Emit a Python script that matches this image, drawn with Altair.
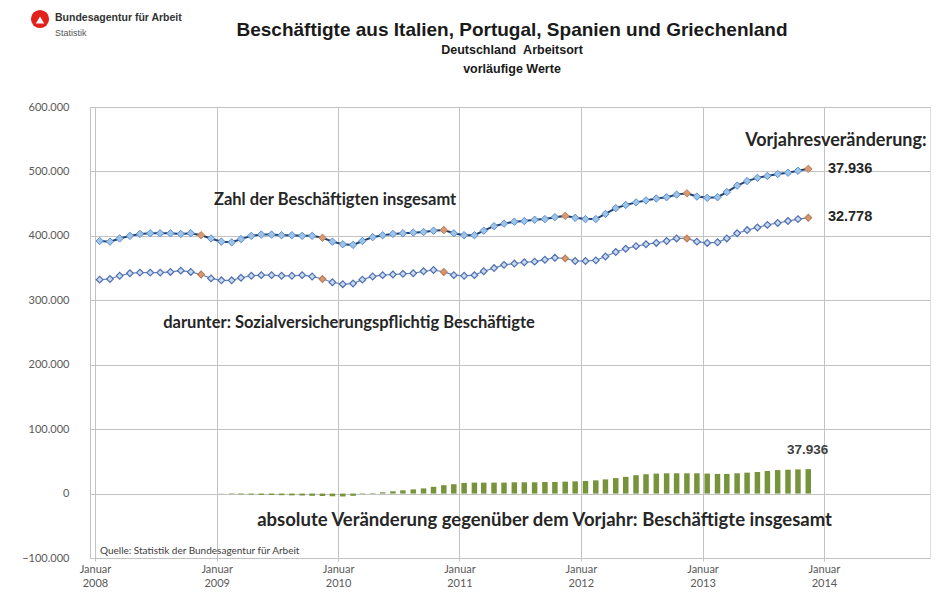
import altair as alt
import pandas as pd

# ---------------- data (thousands) ----------------
total_k = [
    392, 391, 396, 400, 403, 404, 404, 404, 403, 404, 401, 396,   # 2008
    391, 390, 395, 400, 402, 402, 401, 401, 400, 400, 397, 391,   # 2009
    387, 386, 392, 398, 401, 403, 404, 405, 406, 408, 409, 404,   # 2010
    401, 401, 408, 415, 419, 422, 423, 425, 426, 429, 431, 428,   # 2011
    426, 426, 434, 443, 448, 452, 455, 458, 460, 464, 466, 461,   # 2012
    459, 460, 468, 478, 485, 490, 493, 496, 498, 501, 504,        # 2013 (Jan-Nov)
]
sv_k = [
    332, 333, 338, 342, 343, 343, 343, 344, 346, 344, 340, 334,
    331, 331, 335, 338, 339, 339, 338, 338, 339, 337, 333, 328,
    325, 326, 332, 337, 339, 340, 341, 342, 345, 347, 344, 339,
    338, 339, 345, 350, 355, 357, 359, 360, 363, 366, 365, 361,
    361, 362, 368, 375, 380, 384, 387, 389, 392, 396, 396, 391,
    389, 390, 396, 404, 409, 413, 417, 420, 423, 426, 428,
]
change_k = [
    -0.3, -0.8, -1.2, -1.5, -2.0, -2.2, -2.5, -2.8, -3.0, -3.5, -3.8, -4.2,  # 2009
    -4.5, -3.5, -0.8, 0.8, 2.0, 3.5, 5.0, 6.5, 8.0, 10.5, 13.0, 14.5,        # 2010
    16.5, 17.0, 17.0, 17.0, 17.0, 17.5, 17.5, 17.5, 18.0, 18.0, 18.5, 19.0,  # 2011
    19.5, 20.5, 22.0, 24.0, 26.0, 28.5, 30.0, 31.0, 31.5, 31.5, 31.5, 31.5,  # 2012
    31.0, 30.5, 30.5, 31.5, 32.5, 33.5, 35.0, 36.5, 37.0, 37.5, 37.936,      # 2013
]
label_total = "37.936"
label_sv = "32.778"
label_bar = "37.936"
tick_years = [2008, 2009, 2010, 2011, 2012, 2013, 2014]

title_main = "Beschäftigte aus Italien, Portugal, Spanien und Griechenland"
title_sub1 = "Deutschland\u00a0\u00a0Arbeitsort"
title_sub2 = "vorläufige Werte"

months = pd.date_range("2008-01-01", periods=len(total_k), freq="MS") + pd.Timedelta(days=14)
dates = [d.strftime("%Y-%m-%d") for d in months]
is_nov = [d.month == 11 for d in months]

total_df = pd.DataFrame({"date": dates, "value": [v * 1000 for v in total_k], "nov": is_nov})
sv_df = pd.DataFrame({"date": dates, "value": [v * 1000 for v in sv_k], "nov": is_nov})
bar_df = pd.DataFrame({"date": dates[12:], "value": [v * 1000 for v in change_k]})

# ---------------- scales / axes ----------------
GRID = "#c3c3c3"
LABEL = "#595959"
x_scale = alt.Scale(type="utc",
                    domain=[alt.DateTime(year=2008, month=1, date=1, utc=True),
                            alt.DateTime(year=2014, month=11, date=1, utc=True)])
y_scale = alt.Scale(domain=[-100000, 600000], nice=False, zero=False)

x_axis = alt.Axis(values=[alt.DateTime(year=y, month=1, date=1, utc=True) for y in tick_years],
                  labelExpr="['Januar', utcFormat(datum.value, '%Y')]",
                  grid=True, gridColor=GRID, domainColor=GRID, tickColor=GRID, tickSize=3,
                  labelFont="Lato", labelFontSize=11, labelColor=LABEL, labelLineHeight=14,
                  labelPadding=2, title=None)
y_axis = alt.Axis(values=list(range(-100000, 600001, 100000)),
                  labelExpr="replace(format(datum.value, ','), ',', '.')",
                  grid=True, gridColor=GRID, domainColor=GRID, ticks=False,
                  labelFont="Lato", labelFontSize=11, labelColor=LABEL,
                  labelPadding=21, title=None)

X = alt.X("date:T", scale=x_scale, axis=x_axis)
Y = alt.Y("value:Q", scale=y_scale, axis=y_axis)
Xn = alt.X("date:T", scale=x_scale)
Yn = alt.Y("value:Q", scale=y_scale)

bars = alt.Chart(bar_df).mark_bar(color="#77933c", size=5.5).encode(x=X, y=Y)

total_line = alt.Chart(total_df).mark_line(color="#24406e", strokeWidth=2).encode(x=Xn, y=Yn)
total_pts = alt.Chart(total_df).mark_point(shape="diamond", filled=True, size=55,
                                           opacity=1, strokeWidth=1).encode(
    x=Xn, y=Yn,
    fill=alt.condition("datum.nov", alt.value("#d99a72"), alt.value("#9cc3e8")),
    stroke=alt.condition("datum.nov", alt.value("#b97d57"), alt.value("#5b8fcf")))

sv_line = alt.Chart(sv_df).mark_line(color="#6283bf", strokeWidth=1.2).encode(x=Xn, y=Yn)
sv_pts = alt.Chart(sv_df).mark_point(shape="diamond", filled=True, size=45,
                                     opacity=1, strokeWidth=1.2).encode(
    x=Xn, y=Yn,
    fill=alt.condition("datum.nov", alt.value("#d99a72"), alt.value("#c9d9ee")),
    stroke=alt.condition("datum.nov", alt.value("#b97d57"), alt.value("#4f6fb0")))

# ---------------- annotations ----------------
ann_a = pd.DataFrame({
    "date": ["2009-12-23", "2010-02-03"],
    "value": [455000, 264000],
    "text": ["Zahl der Beschäftigten insgesamt",
             "darunter: Sozialversicherungspflichtig Beschäftigte"],
})
ann_b = pd.DataFrame({"date": ["2011-09-14"], "value": [-41000],
                      "text": ["absolute Veränderung gegenüber dem Vorjahr: Beschäftigte insgesamt"]})
ann_c = pd.DataFrame({"date": ["2014-02-06"], "value": [548000],
                      "text": ["Vorjahresveränderung:"]})
ann_numbers = pd.DataFrame({
    "date": ["2014-01-13", "2014-01-13"],
    "value": [503000, 429000],
    "text": [label_total, label_sv],
})
ann_bar = pd.DataFrame({"date": ["2013-11-13"], "value": [68000], "text": [label_bar]})
ann_src = pd.DataFrame({"date": ["2008-01-16"], "value": [-89000],
                        "text": ["Quelle: Statistik der Bundesagentur für Arbeit"]})

def ann(df, size, font="Lato", weight="bold", color="#262626", align="center"):
    return alt.Chart(df).mark_text(font=font, fontSize=size, fontWeight=weight, color=color,
                                   align=align, baseline="middle").encode(x=Xn, y=Yn, text="text:N")

t_a = ann(ann_a, 16.5)
t_b = ann(ann_b, 18.5)
t_c = ann(ann_c, 18)
t_num = ann(ann_numbers, 14.5, font="Liberation Sans", align="left")
t_bar = ann(ann_bar, 13.5, font="Liberation Sans", color="#404040")
t_src = ann(ann_src, 10, weight="normal", color="#404040", align="left")

# ---------------- header: logo and title (positioned in the padding) ----------------
one = pd.DataFrame({"a": [0]})

def htext(txt, x, y, size, font="Liberation Sans", weight="bold", color="#1a1a1a", align="left"):
    return alt.Chart(one).mark_text(font=font, fontSize=size, fontWeight=weight, color=color,
                                    align=align, baseline="middle").encode(
        x=alt.value(x), y=alt.value(y), text=alt.value(txt))

logo_c = alt.Chart(one).mark_point(shape="circle", filled=True, size=330, color="#e2211c",
                                   opacity=1).encode(x=alt.value(-50), y=alt.value(-88))
logo_t = alt.Chart(one).mark_point(shape="triangle-up", filled=True, size=70, color="white",
                                   opacity=1).encode(x=alt.value(-50), y=alt.value(-87))
logo_1 = htext("Bundesagentur für Arbeit", -35, -89, 10.5, color="#333333")
logo_2 = htext("Statistik", -35, -74, 9, weight="normal", color="#555555")

title_1 = htext(title_main, 422, -77, 19, align="center")
title_2 = htext(title_sub1, 422, -57, 12.5, align="center")
title_3 = htext(title_sub2, 422, -38, 12.5, align="center")

chart = alt.layer(
    bars, total_line, total_pts, sv_line, sv_pts,
    t_a, t_b, t_c, t_num, t_bar, t_src,
    logo_c, logo_t, logo_1, logo_2, title_1, title_2, title_3,
).properties(
    width=840, height=451,
    autosize=alt.AutoSizeParams(type="none"),
    padding={"left": 82, "top": 99, "right": 3, "bottom": 37},
).configure_view(stroke=None).configure(background="white")

chart.save("out.html", embed_options={"renderer": "svg", "actions": False})
